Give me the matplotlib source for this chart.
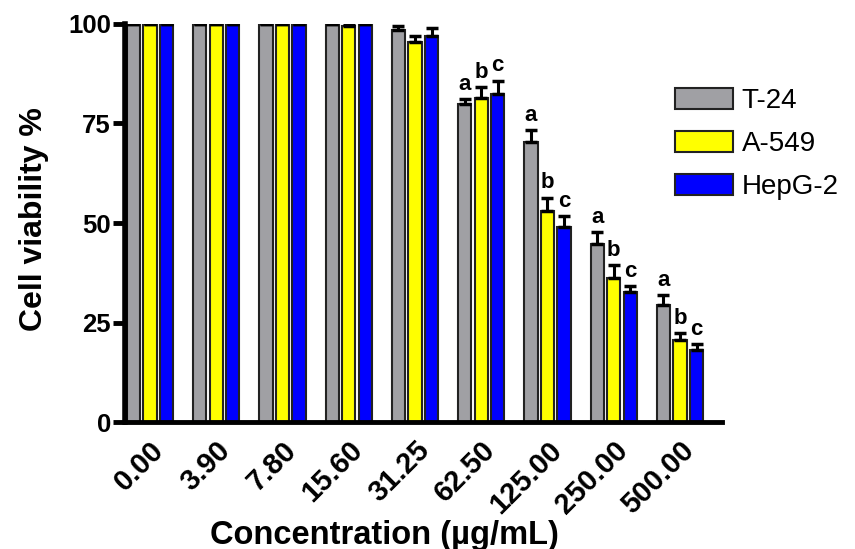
import numpy as np
import matplotlib
matplotlib.use("Agg")
import matplotlib.pyplot as plt

plt.rcParams['font.family'] = ['Liberation Sans', 'DejaVu Sans']

# === Data ===
concentrations = ["0.00", "3.90", "7.80", "15.60", "31.25", "62.50", "125.00", "250.00", "500.00"]
cell_lines = ["T-24", "A-549", "HepG-2"]
t24 = [100, 100, 100, 100, 98.5, 80.0, 70.3, 44.7, 29.4]
a549 = [100, 100, 100, 99.5, 95.5, 81.3, 52.9, 36.3, 20.6]
hepg2 = [100, 100, 100, 100, 97.0, 82.4, 48.9, 32.6, 18.1]
t24_err = [0, 0, 0, 0, 1.0, 1.2, 3.0, 3.1, 2.5]
a549_err = [0, 0, 0, 0.5, 1.5, 2.9, 3.5, 3.1, 1.8]
hepg2_err = [0, 0, 0, 0, 2.0, 3.4, 2.9, 1.6, 1.5]
letters = ["a", "b", "c"]
letter_from = 5  # letters shown from 62.50 on

colors = ["#a0a0a4", "#ffff00", "#0000ff"]
series = [t24, a549, hepg2]
errors = [t24_err, a549_err, hepg2_err]

fig = plt.figure(figsize=(8.55, 5.49), dpi=100)
ax = fig.add_axes([0.1462, 0.2313, 0.6982, 0.7250])

x = np.arange(len(concentrations))
step = 0.25
width = 0.2

for i, (vals, errs, col, name) in enumerate(zip(series, errors, colors, cell_lines)):
    pos = x + (i - 1) * step
    ax.bar(pos, vals, width, color=col, edgecolor="#222222", linewidth=1.5,
           label=name, zorder=2)
    ax.errorbar(pos, vals, yerr=[np.zeros(len(vals)), errs], fmt="none",
                ecolor="black", elinewidth=2.2, capsize=4.5, capthick=2.5, zorder=3)
    for j in range(letter_from, len(vals)):
        ax.annotate(letters[i], (pos[j], vals[j] + errs[j]), xytext=(0, 3),
                    textcoords="offset points", ha="center", va="bottom",
                    fontsize=16, fontweight="bold")

ax.set_xlim(-0.377, 8.634)
ax.set_ylim(0, 100)
ax.set_yticks([0, 25, 50, 75, 100])
ax.set_xticks(x)
ax.set_xticklabels(concentrations, rotation=45, ha="right", rotation_mode="anchor",
                   fontsize=21, fontweight="bold")
for lab in ax.get_yticklabels():
    lab.set_fontsize(18.5)
    lab.set_fontweight("bold")

ax.spines["top"].set_visible(False)
ax.spines["right"].set_visible(False)
ax.spines["left"].set_linewidth(4)
ax.spines["bottom"].set_linewidth(3.5)
ax.tick_params(axis="y", length=9, width=3.5, pad=1)
ax.tick_params(axis="x", length=0, pad=10)

ax.set_xlabel("Concentration (µg/mL)", fontsize=23.5, fontweight="bold")
ax.set_ylabel("Cell viability %", fontsize=23, fontweight="bold")
ax.xaxis.set_label_coords(0.435, -0.245)
ax.yaxis.set_label_coords(-0.127, 0.51)

fig.legend(loc="upper left", bbox_to_anchor=(0.789, 0.84), frameon=False,
           borderpad=0, borderaxespad=0,
           fontsize=20, handlelength=2.1, handleheight=0.8, handletextpad=0.32,
           labelspacing=0.6)

fig.savefig("out.png", dpi=100)
